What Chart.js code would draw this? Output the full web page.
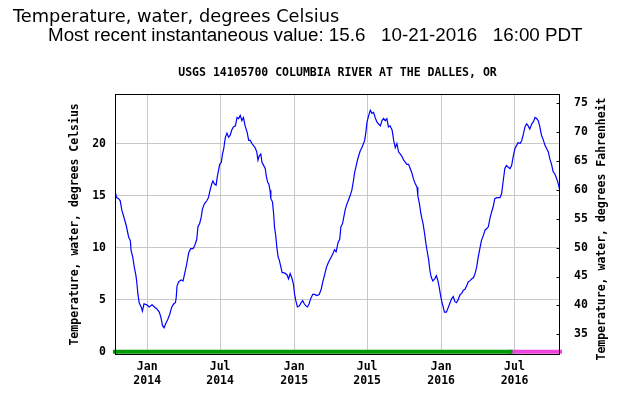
<!DOCTYPE html>
<html>
<head>
<meta charset="utf-8">
<script src="https://cdn.jsdelivr.net/npm/chart.js@4.4.0/dist/chart.umd.min.js"></script>
<style>
  html, body { margin: 0; padding: 0; background: #fff; }
  #wrap { position: relative; width: 623px; height: 396px; }
  #wrap canvas { position: absolute; left: 0; top: 0; }
  #title { position: absolute; left: 13px; top: 7px; font: 17.8px "DejaVu Sans"; line-height: 18px; white-space: pre; color: #000; }
  #sub { position: absolute; left: 48px; top: 25px; font: 18.8px "Liberation Sans"; line-height: 19px; white-space: pre; color: #000; }
</style>
</head>
<body>
<div id="wrap">
  <canvas id="chart" width="623" height="396"></canvas>
  <div id="title">Temperature, water, degrees Celsius</div>
  <div id="sub">Most recent instantaneous value: 15.6   10-21-2016   16:00 PDT</div>
</div>
<script>
// days since 2014-01-01
var days = [
  -79, -76, -71, -67, -63, -57, -52, -46, -42, -40, -36, -32, -28, -26, -23, -20, -15, -12, -8, -1,
  5, 12, 18, 24, 30, 34, 38, 42, 46, 51, 56, 61, 66, 70, 72, 74, 78, 84, 89, 93,
  98, 103, 108, 114, 118, 123, 126, 130, 134, 137, 142, 148, 152, 156, 160, 163, 167, 171, 174, 177,
  180, 184, 187, 190, 194, 198, 202, 206, 210, 214, 219, 223, 227, 231, 235, 239, 243, 248, 252, 256,
  260, 264, 268, 272, 275, 278, 282, 285, 289, 293, 296, 299, 302, 305, 307, 311, 314, 316, 319, 322,
  325, 328, 331, 335, 339, 343, 347, 351, 355, 359, 363, 366, 369, 373, 378, 382, 386, 390, 394, 398,
  402, 406, 411, 416, 421, 427, 432, 436, 440, 445, 449, 453, 457, 461, 465, 469, 474, 478, 481, 485,
  488, 492, 496, 500, 504, 508, 512, 515, 518, 522, 525, 529, 533, 537, 540, 543, 546, 550, 554, 558,
  562, 566, 570, 574, 579, 583, 587, 591, 595, 599, 603, 608, 612, 616, 620, 624, 628, 632, 637, 641,
  645, 649, 653, 657, 661, 666, 670, 672, 676, 679, 682, 685, 689, 692, 695, 699, 702, 705, 709, 714,
  718, 722, 725, 728, 732, 735, 738, 743, 748, 752, 756, 760, 764, 768, 772, 777, 781, 785, 789, 793,
  797, 801, 806, 810, 814, 818, 822, 826, 830, 835, 839, 843, 847, 851, 855, 859, 863, 868, 872, 876,
  880, 884, 888, 892, 897, 901, 905, 909, 913, 917, 921, 926, 930, 934, 938, 942, 946, 950, 955, 959,
  963, 967, 971, 975, 979, 983, 988, 992, 996, 1000, 1004, 1008, 1012, 1017, 1021, 1024
];
var tempC = [
  15.3, 14.8, 14.7, 14.5, 13.6, 12.8, 12.1, 11.0, 10.7, 9.7, 9.1, 8.1, 7.3, 6.7, 5.5, 4.7, 4.3, 3.9, 4.6, 4.5,
  4.3, 4.5, 4.3, 4.1, 3.8, 3.3, 2.5, 2.3, 2.7, 3.1, 3.6, 4.3, 4.6, 4.7, 5.2, 6.3, 6.7, 6.9, 6.8, 7.5,
  8.4, 9.5, 9.9, 9.9, 10.2, 10.8, 12.0, 12.3, 12.9, 13.7, 14.2, 14.5, 14.8, 15.5, 16.1, 16.4, 16.1, 16.0, 16.8, 17.4,
  18.0, 18.2, 19.0, 19.5, 20.6, 21.0, 20.6, 20.8, 21.3, 21.6, 21.7, 22.5, 22.4, 22.7, 22.2, 22.5, 21.7, 21.1, 20.3, 20.3,
  20.0, 19.8, 19.6, 19.2, 18.4, 18.8, 19.0, 18.2, 17.9, 17.6, 16.8, 16.3, 16.1, 15.5, 14.7, 14.4, 13.2, 12.0, 11.2, 10.0,
  9.1, 8.8, 8.3, 7.6, 7.6, 7.5, 7.4, 7.0, 7.5, 7.1, 6.5, 5.5, 4.9, 4.3, 4.4, 4.7, 4.9, 4.6, 4.4, 4.3,
  4.6, 5.1, 5.5, 5.5, 5.4, 5.5, 6.0, 6.7, 7.3, 8.1, 8.5, 8.8, 9.1, 9.4, 9.8, 9.6, 10.5, 10.8, 12.0, 12.3,
  12.9, 13.7, 14.2, 14.6, 15.0, 15.5, 16.4, 17.2, 17.7, 18.4, 18.8, 19.3, 19.6, 20.0, 20.3, 21.1, 22.1, 22.7, 23.2, 22.9,
  23.0, 22.5, 22.1, 21.9, 21.7, 22.2, 22.4, 22.2, 22.4, 21.6, 21.7, 21.3, 20.3, 19.6, 20.0, 19.2, 19.0, 18.8, 18.4, 18.2,
  18.0, 18.0, 17.6, 17.2, 16.6, 16.1, 15.8, 15.0, 14.2, 13.4, 12.8, 12.3, 11.3, 10.4, 9.7, 8.8, 7.8, 7.2, 6.8, 7.0,
  7.3, 6.8, 6.2, 5.5, 4.7, 4.3, 3.8, 3.8, 4.3, 4.7, 5.1, 5.3, 4.8, 4.7, 5.0, 5.5, 5.6, 5.9, 6.0, 6.3,
  6.7, 6.8, 7.0, 7.1, 7.5, 8.1, 9.1, 9.9, 10.7, 11.2, 11.7, 11.8, 12.0, 12.8, 13.4, 13.9, 14.7, 14.8, 14.8, 14.8,
  15.2, 16.4, 17.6, 17.9, 17.7, 17.6, 17.9, 18.8, 19.5, 19.8, 20.1, 20.0, 20.3, 20.9, 21.6, 21.9, 21.7, 21.4, 21.9, 22.1,
  22.5, 22.4, 22.2, 21.6, 20.8, 20.4, 19.8, 19.5, 19.2, 18.5, 18.0, 17.3, 17.1, 16.6, 16.1, 15.6
];

// approval status bars along the bottom (days since 2014-01-01)
var approvedDays = [-80, 902];
var provisionalDays = [902, 1025];

var xTickDays = [0, 181, 365, 546, 730, 912];
var xTickMonths = ['Jan', 'Jul', 'Jan', 'Jul', 'Jan', 'Jul'];
var xTickYears = ['2014', '2014', '2015', '2015', '2016', '2016'];
var yTicksC = [0, 5, 10, 15, 20];
var yTicksF = [35, 40, 45, 50, 55, 60, 65, 70, 75];

var stationTitle = 'USGS 14105700 COLUMBIA RIVER AT THE DALLES, OR';
var leftTitle = 'Temperature, water, degrees Celsius';
var rightTitle = 'Temperature, water, degrees Fahrenheit';

var cMin = -0.32, cMax = 24.78;
function cToF(c) { return c * 1.8 + 32; }

var monoFont = { family: 'DejaVu Sans Mono', weight: 'bold', size: 11.5 };

// frame around plot, inward ticks on right axis, right axis title
var framePlugin = {
  id: 'frame',
  afterDraw: function(chart) {
    var ctx = chart.ctx, a = chart.chartArea;
    var x0 = Math.round(a.left) + 0.5, x1 = Math.round(a.right) - 0.5;
    var y0 = Math.round(a.top) + 0.5, y1 = Math.round(a.bottom) - 0.5;
    ctx.save();
    ctx.strokeStyle = '#000';
    ctx.lineWidth = 1;
    ctx.strokeRect(x0, y0, x1 - x0, y1 - y0);
    var y2 = chart.scales.y2;
    ctx.beginPath();
    yTicksF.forEach(function(v) {
      var py = Math.round(y2.getPixelForValue(v)) + 0.5;
      ctx.moveTo(x1 - 3, py);
      ctx.lineTo(x1, py);
    });
    ctx.stroke();
    ctx.translate(602, 229);
    ctx.rotate(-Math.PI / 2);
    ctx.font = 'bold 11.5px "DejaVu Sans Mono"';
    ctx.fillStyle = '#000';
    ctx.textAlign = 'center';
    ctx.textBaseline = 'middle';
    ctx.fillText(rightTitle, 0, 0);
    ctx.restore();
  }
};

var ctx = document.getElementById('chart').getContext('2d');
var chart = new Chart(ctx, {
  type: 'line',
  data: {
    datasets: [
      {
        label: 'Temperature',
        data: days.map(function(d, i) { return { x: d, y: tempC[i] }; }),
        borderColor: '#0000ff',
        borderWidth: 1.2,
        pointRadius: 0,
        tension: 0,
        yAxisID: 'y'
      },
      {
        label: 'Approved',
        data: approvedDays.map(function(d) { return { x: d, y: 0 }; }),
        borderColor: '#009900',
        borderWidth: 4,
        borderCapStyle: 'square',
        pointRadius: 0,
        clip: false,
        yAxisID: 'y'
      },
      {
        label: 'Provisional',
        data: provisionalDays.map(function(d) { return { x: d, y: 0 }; }),
        borderColor: '#ee44dd',
        borderWidth: 4,
        borderCapStyle: 'square',
        pointRadius: 0,
        clip: false,
        yAxisID: 'y'
      }
    ]
  },
  options: {
    responsive: false,
    animation: false,
    layout: { padding: 0 },
    plugins: {
      legend: { display: false },
      tooltip: { enabled: false },
      title: {
        display: true,
        text: stationTitle,
        fullSize: false,
        color: '#000',
        font: monoFont,
        padding: { top: 66, bottom: 14 }
      }
    },
    scales: {
      x: {
        type: 'linear',
        min: -80,
        max: 1025,
        afterBuildTicks: function(s) { s.ticks = xTickDays.map(function(v) { return { value: v }; }); },
        afterFit: function(s) { s.height = 41; },
        ticks: {
          autoSkip: false,
          maxRotation: 0,
          padding: 5,
          color: '#000',
          font: monoFont,
          callback: function(v, i) { return [xTickMonths[i], xTickYears[i]]; }
        },
        grid: { color: '#c8c8c8', drawTicks: false },
        border: { display: false }
      },
      y: {
        position: 'left',
        min: cMin,
        max: cMax,
        afterBuildTicks: function(s) { s.ticks = yTicksC.map(function(v) { return { value: v }; }); },
        afterFit: function(s) { s.width = 115; },
        ticks: { padding: 9, color: '#000', font: monoFont },
        grid: {
          drawTicks: false,
          color: function(c) { return c.tick && c.tick.value === 0 ? 'rgba(0,0,0,0)' : '#c8c8c8'; }
        },
        border: { display: false },
        title: {
          display: true,
          text: leftTitle,
          color: '#000',
          font: monoFont,
          padding: { top: 68, bottom: 0 }
        }
      },
      y2: {
        position: 'right',
        min: cToF(cMin),
        max: cToF(cMax),
        afterBuildTicks: function(s) { s.ticks = yTicksF.map(function(v) { return { value: v }; }); },
        afterFit: function(s) { s.width = 63; },
        ticks: { padding: 14, color: '#000', font: monoFont },
        grid: { drawOnChartArea: false, drawTicks: false },
        border: { display: false }
      }
    }
  },
  plugins: [framePlugin]
});
</script>
</body>
</html>
